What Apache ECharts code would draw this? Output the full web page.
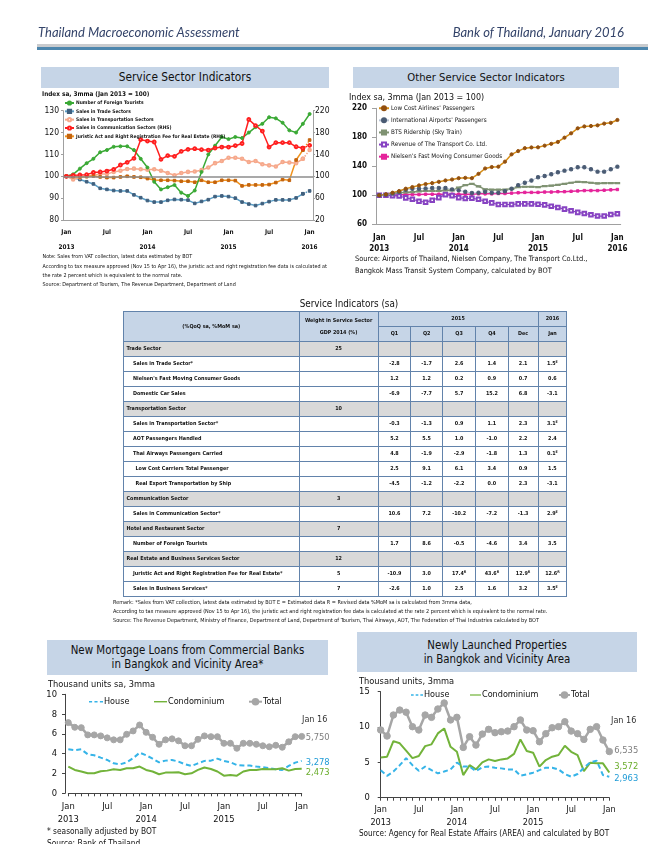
<!DOCTYPE html>
<html><head><meta charset="utf-8">
<script src="https://cdn.jsdelivr.net/npm/echarts/dist/echarts.min.js"></script>
<style>
html,body{margin:0;padding:0;}
body{width:661px;height:844px;position:relative;overflow:hidden;background:#fff;font-family:"DejaVu Sans Condensed","DejaVu Sans",sans-serif;color:#111;}
#chart{position:absolute;left:0;top:0;width:661px;height:844px;z-index:1;}
.tx{position:absolute;white-space:nowrap;transform:translateY(-50%);line-height:1.15;z-index:3;}
.box{position:absolute;background:#c6d5e7;z-index:0;display:flex;flex-direction:column;align-items:center;justify-content:center;color:#111;white-space:nowrap;}
#tbl{position:absolute;left:123px;top:311px;border-collapse:collapse;table-layout:fixed;z-index:3;font-weight:bold;font-size:5.4px;color:#111;}
#tbl td{border:1.4px solid #6283ab;padding:0;height:15px;box-sizing:border-box;text-align:center;vertical-align:middle;line-height:1;white-space:nowrap;overflow:hidden;}
#tbl td.lab{text-align:left;}
#tbl tr.hd td{background:#c6d5e7;}
#tbl tr.sec td{background:#d9d9d9;}
#tbl sup{font-size:3.6px;vertical-align:2px;}
</style></head>
<body>
<div id="chart"></div>
<script>
// ---------------- DATA ----------------
const months = ['2013-01','2013-02','2013-03','2013-04','2013-05','2013-06','2013-07','2013-08','2013-09','2013-10','2013-11','2013-12',
 '2014-01','2014-02','2014-03','2014-04','2014-05','2014-06','2014-07','2014-08','2014-09','2014-10','2014-11','2014-12',
 '2015-01','2015-02','2015-03','2015-04','2015-05','2015-06','2015-07','2015-08','2015-09','2015-10','2015-11','2015-12','2016-01'];

// Service Sector Indicators (index, Jan 2013 = 100)
const foreignTourists = [100,100.9,103.5,106,108,111,112,113.5,113.7,113.7,112,108,104,97.5,94,95,96,92.5,91,93.5,102,110,114,118,117,118,117.5,120,122.5,124,127,126.5,124.5,121,120,124,128.5];
const tradeSales = [100,99.3,98.5,97.5,96.5,94.5,94,93.5,93.3,93.3,91.5,90.2,88.9,88.2,88.2,89,89.4,89.3,89.1,87.6,88.5,89.3,90.7,91,90.7,90,88.2,87.3,86.6,87.5,88.4,89.2,89.2,89.2,90.1,92,93.3];
const transportSales = [100,98.5,99.5,100,100.5,101,101,102,102.5,103.3,103.5,103.2,103,103.2,102.5,101.5,100.5,101.5,102,102.2,102.8,104,106,107,108.5,108.5,108,106.5,107,105.5,105,104.5,106.5,106.3,106,108,112];
const commSales = [100,101.8,102.3,103,107,107.8,109.6,112.7,120.6,125.5,132.8,167,164.5,162.7,131,137.7,136.5,145.6,149.3,150.5,148.7,148,151.7,153.5,153.5,156,160,204,192.6,182.8,153.5,161.5,161.5,161.5,154,151.7,156.6];
const juristicFee = [100,99.4,98.8,99.4,100.6,98.8,97.6,97.6,98.8,100,98.8,98.2,95.8,93.3,92.7,92.7,92.1,90.9,90.9,89.1,92.7,89.1,89.1,92.7,92.7,92.1,82.4,84.2,84.2,84.2,84.8,88.5,93.9,92.7,129.8,148,166.3];

// Other Service Sector Indicators
const lowCostPax = [100,101.4,103.6,105.9,109.1,111.4,113.6,115.5,116.8,118.6,120.5,121.8,123.6,124.1,123.6,129.6,137,139,139.5,146.4,156.5,161,165,166,166.2,168.5,171,173.6,179.5,185.5,192.4,195,195.6,196.5,198.9,200,203.9];
const intlAirportPax = [100,100.9,102.3,104.5,107.7,109.1,109.1,109.5,110,110,110,108.2,106.8,105,103.2,103.6,105,103.6,103.6,105.5,109,114,117.3,120.5,124.8,126.7,129,131.7,134,135.9,138.6,138.6,135.9,132.6,132.6,135.9,139.5];
const btsRidership = [100,101,102.3,103.6,104,104.5,105.5,106,106,106,106.8,106.8,110.5,114,115.9,112.3,108.2,107.7,107.7,107.7,109,111.4,111.8,111.8,111.4,112.7,113.2,114.5,115.9,117.3,118.6,118.2,117.3,116.4,116.8,116.8,116.8];
const transportCoRevenue = [100,100,99.5,99.1,96.4,94.5,91.8,90.5,93.2,96.8,100.9,99.5,96.8,95.5,95.9,94.5,91.8,89.5,87.3,87.3,87.3,88.2,88.2,88.2,87.7,86.8,85,83.2,80.9,78.7,76.4,75,73.2,71.4,71.4,73.6,74.5];
const nielsenFMCG = [100,100,100.5,100.5,101,101,101,101.5,101.5,101.5,101.5,101.5,101.5,101.5,101.5,102,102,102,102.5,102.5,103,103.5,104,104,104,104.5,104.5,105,105,105.5,106,106.5,106.5,106.5,107,107.5,108];

// New Mortgage Loans (thousand units)
const mortgageTotal = [7.14,6.67,6.63,5.9,5.9,5.8,5.6,5.4,5.4,5.96,6.3,6.9,6.16,5.66,4.95,5.4,5.5,5.3,4.8,4.8,5.45,5.8,5.72,5.72,5.05,5.05,4.55,5.05,5.05,4.95,4.8,4.7,4.85,4.65,5.2,5.72,5.75];
const mortgageHouse = [4.44,4.35,4.44,3.94,3.84,3.6,3.37,3.03,2.93,3.13,3.54,4.1,3.84,3.5,3.13,3.3,3.37,3.2,2.93,2.76,3.03,3.27,3.3,3.5,3.27,3.13,2.86,2.8,2.8,2.7,2.63,2.53,2.42,2.36,2.76,3.1,3.278];
const mortgageCondo = [2.7,2.36,2.2,2.02,2.02,2.22,2.29,2.42,2.36,2.53,2.53,2.7,2.36,2.2,1.92,2.09,2.09,2.12,1.92,2.02,2.36,2.6,2.46,2.2,1.78,1.85,1.78,2.2,2.36,2.36,2.46,2.42,2.42,2.53,2.29,2.46,2.473];

// Newly Launched Properties (thousand units)
const launchTotal = [9.58,8.73,11.7,12.4,12.1,10.05,9.58,11.7,11.37,12.55,13.4,11,11.37,7.12,8.63,7.45,9.0,9.67,9.2,9.34,9.43,10.05,11,9.58,9.48,7.92,9.06,9.9,10.05,10.75,9.43,9.06,8.25,9.67,10.05,8.16,6.535];
const launchCondo = [5.7,5.8,8.0,7.7,6.65,5.6,5.9,7.3,7.55,9.1,9.8,7.2,6.5,3.2,4.6,4.0,5.0,5.42,5.2,5.42,5.56,6.2,8.25,6.6,6.37,4.4,5.33,5.8,6.04,7.36,6.5,6.04,3.77,4.95,4.86,4.86,3.572];
const launchHouse = [3.9,3.1,3.7,4.6,5.6,4.6,3.8,4.4,3.9,3.45,3.7,4.0,4.95,4.4,4.4,3.77,4.3,4.4,4.25,4.15,4.0,4.0,3.1,3.3,3.54,3.9,4.25,4.25,4.0,3.35,2.97,3.35,4.25,5.0,5.24,3.2,2.963];

// Service Indicators table
const tableHead2015 = ['Q1','Q2','Q3','Q4','Dec'];
const tableHead2016 = ['Jan'];
const tableLabels = ['Trade Sector','Sales in Trade Sector*',"Nielsen's Fast Moving Consumer Goods",'Domestic Car Sales','Transportation Sector','Sales in Transportation Sector*','AOT Passengers Handled','Thai Airways Passengers Carried','Low Cost Carriers Total Passenger','Real Export Transportation by Ship','Communication Sector','Sales in Communication Sector*','Hotel and Restaurant Sector','Number of Foreign Tourists','Real Estate and Business Services Sector','Juristic Act and Right Registration Fee for Real Estate*','Sales in Business Services*'];
const tableIndent = [0,1,1,1,0,1,1,1,2,2,0,1,0,1,0,1,1];
const tableWeights = ['25','','','','10','','','','','','3','','7','','12','5','7'];
const tableValues = [
 null,
 ['-2.8','-1.7','2.6','1.4','2.1','1.5|E'],
 ['1.2','1.2','0.2','0.9','0.7','0.6'],
 ['-6.9','-7.7','5.7','15.2','6.8','-3.1'],
 null,
 ['-0.3','-1.3','0.9','1.1','2.3','3.1|E'],
 ['5.2','5.5','1.0','-1.0','2.2','2.4'],
 ['4.8','-1.9','-2.9','-1.8','1.3','0.1|E'],
 ['2.5','9.1','6.1','3.4','0.9','1.5'],
 ['-4.5','-1.2','-2.2','0.0','2.3','-3.1'],
 null,
 ['10.6','7.2','-10.2','-7.2','-1.3','2.9|E'],
 null,
 ['1.7','8.6','-0.5','-4.6','3.4','3.5'],
 null,
 ['-10.9','3.0','17.4|R','43.6|R','12.9|R','12.6|R'],
 ['-2.6','1.0','2.5','1.6','3.2','3.5|E']
];

// ---------------- PAGE TEXT ----------------
const FF = '"DejaVu Sans Condensed","DejaVu Sans",sans-serif';
function addText(x, y, txt, css, align) {
  const d = document.createElement('div');
  d.className = 'tx';
  d.textContent = txt;
  d.style.cssText = css || '';
  d.style.top = y + 'px';
  if (align === 'right') { d.style.left = x + 'px'; d.style.transform = 'translate(-100%,-50%)'; }
  else if (align === 'center') { d.style.left = x + 'px'; d.style.transform = 'translate(-50%,-50%)'; }
  else d.style.left = x + 'px';
  document.body.appendChild(d);
  return d;
}
function addBox(x, y, w, h, lines, fs, lh) {
  const d = document.createElement('div');
  d.className = 'box';
  d.style.cssText = `left:${x}px;top:${y}px;width:${w}px;height:${h}px;font-size:${fs}px;line-height:${lh}px;`;
  lines.forEach(l => { const s = document.createElement('div'); s.textContent = l; d.appendChild(s); });
  document.body.appendChild(d);
}
function addRect(x, y, w, h, c) {
  const d = document.createElement('div');
  d.style.cssText = `position:absolute;left:${x}px;top:${y}px;width:${w}px;height:${h}px;background:${c};`;
  document.body.appendChild(d);
}

// header
const hdr = 'font-family:Lato,"Open Sans",sans-serif;font-style:italic;font-size:13px;color:#34446a;';
addText(38, 32, 'Thailand Macroeconomic Assessment', hdr);
addText(624, 32, 'Bank of Thailand, January 2016', hdr, 'right');
addRect(37, 44, 611, 3, '#c9cbce');
addRect(37, 47, 611, 2.5, '#4d86ad');

// title boxes
addBox(41, 67, 288, 21, ['Service Sector Indicators'], 11.8, 13);
addBox(353, 67, 266, 21, ['Other Service Sector Indicators'], 11.2, 13);
addBox(47, 640, 281, 35, ['New Mortgage Loans from Commercial Banks', 'in Bangkok and Vicinity Area*'], 11.4, 13.4);
addBox(357, 632, 280, 40, ['Newly Launched Properties', 'in Bangkok and Vicinity Area'], 11.4, 14);

// axis unit labels
addText(42, 95, 'Index sa, 3mma (Jan 2013 = 100)', 'font-size:6.4px;font-weight:bold;');
addText(349, 97, 'Index sa, 3mma (Jan 2013 = 100)', 'font-size:8.9px;');
addText(48, 683.5, 'Thousand units sa, 3mma', 'font-size:9.2px;');
addText(359, 681, 'Thousand units, 3mma', 'font-size:9.2px;');

// notes
const nt = 'font-size:5.4px;';
addText(42.5, 255.5, 'Note:  Sales from VAT collection, latest data estimated by BOT', nt);
addText(42.5, 265.5, 'According to tax measure approved (Nov 15 to Apr 16), the juristic act and right registration fee data is calculated at', nt);
addText(42.5, 274.5, 'the rate 2 percent which is equivalent to the normal rate.', nt);
addText(42.5, 283.5, 'Source: Department of Tourism, The Revenue Department, Department of Land', nt);
addText(355, 259.3, 'Source: Airports of Thailand, Nielsen Company, The Transport Co.Ltd.,', 'font-size:7.4px;');
addText(355, 270.5, 'Bangkok Mass Transit System Company, calculated by BOT', 'font-size:7.4px;');

// table
addText(349, 304, 'Service Indicators (sa)', 'font-size:9.8px;', 'center');
const rm = 'font-size:5.5px;';
addText(113, 601.5, 'Remark:  *Sales from VAT collection, latest data estimated by BOT      E = Estimated data      R = Revised data      %MoM sa is calculated from 3mma data,', rm);
addText(113, 610.5, 'According to tax measure approved (Nov 15 to Apr 16), the juristic act and right registration fee data is calculated at the rate 2 percent which is equivalent to the normal rate.', rm);
addText(113, 619.5, 'Source: The Revenue Department, Ministry of Finance, Department of Land, Department of Tourism, Thai Airways, AOT, The Federation of Thai Industries calculated by BOT', rm);

// bottom notes
addText(47, 831.7, '* seasonally adjusted by BOT', 'font-size:8.3px;');
addText(47, 843.5, 'Source: Bank of Thailand', 'font-size:8.3px;');
addText(359, 834, 'Source: Agency for Real Estate Affairs (AREA) and calculated by BOT', 'font-size:8.1px;');
addText(302, 719.3, 'Jan 16', 'font-size:9px;color:#333;');
addText(611, 720, 'Jan 16', 'font-size:9px;color:#333;');

// build table
(function(){
  const colW = [175.6, 79, 32.7, 31.7, 33.3, 32.3, 30, 28.7];
  const t = document.createElement('table');
  t.id = 'tbl';
  let h = '<colgroup>' + colW.map(w => `<col style="width:${w}px">`).join('') + '</colgroup>';
  h += `<tr class="hd"><td rowspan="2">(%QoQ sa, %MoM sa)</td><td rowspan="2" style="line-height:11.5px">Weight in Service Sector<br>GDP 2014 (%)</td><td colspan="5">2015</td><td>2016</td></tr>`;
  h += '<tr class="hd">' + tableHead2015.concat(tableHead2016).map(s => `<td>${s}</td>`).join('') + '</tr>';
  tableLabels.forEach((lab, i) => {
    const vals = tableValues[i];
    const pad = [2.5, 9, 11.5][tableIndent[i]];
    h += `<tr class="${vals ? '' : 'sec'}"><td class="lab" style="padding-left:${pad}px">${lab}</td><td>${tableWeights[i]}</td>`;
    for (let k = 0; k < 6; k++) {
      let c = '';
      if (vals) { const p = vals[k].split('|'); c = p[0] + (p[1] ? `<sup>${p[1]}</sup>` : ''); }
      h += `<td>${c}</td>`;
    }
    h += '</tr>';
  });
  t.innerHTML = h;
  document.body.appendChild(t);
})();

// ---------------- CHARTS ----------------
const chart = echarts.init(document.getElementById('chart'), null, {renderer: 'canvas'});

function monthLabel(showLastYear) {
  return function (v) {
    const y = v.slice(0, 4), m = v.slice(5);
    if (m === '01') return (y === '2016' && !showLastYear) ? 'Jan' : 'Jan\n' + y;
    return 'Jul';
  };
}
function onlyUpTo(arr, n) { return arr.map((v, i) => i <= n ? v : null); }
function fromIdx(arr, n) { return arr.map((v, i) => i >= n ? v : null); }

function line(name, xi, yi, data, color, o) {
  o = o || {};
  return Object.assign({
    name: name, type: 'line', xAxisIndex: xi, yAxisIndex: yi, data: data,
    symbol: o.symbol || 'none', symbolSize: o.size || 3, showSymbol: !!o.symbol, showAllSymbol: true,
    lineStyle: {color: color, width: o.width || 1.5, type: o.type || 'solid'},
    itemStyle: {color: o.mcolor || color, borderColor: o.mcolor || color, borderWidth: o.bw || 1},
    emphasis: {disabled: true}, silent: true, z: o.z || 2
  }, o.extra || {});
}
const fmtK = v => Math.round(v * 1000).toLocaleString('en-US');

const axLine = c => ({show: true, lineStyle: {color: c, width: 1}});
const lblBase = {color: '#111', fontFamily: FF};
const dashIcon = 'path://M0,0H4V2H0Z M7,0H11V2H7Z M14,0H18V2H14Z';
const solidIcon = 'path://M0,0H18V2H0Z';
function smallLeg(item, left, top, w) {
  const isLine = typeof item === 'object';
  const l = {data: [item], left: left, top: top, itemWidth: w, itemHeight: isLine ? 2.4 : 7, padding: 0, selectedMode: false,
    textStyle: {fontSize: 9, lineHeight: 10, color: '#111', padding: [0, 0, 0, -4]}};
  if (isLine) l.itemStyle = {borderWidth: 0};
  return l;
}

const option = {
  animation: false,
  textStyle: {fontFamily: FF},
  grid: [
    {left: 63, top: 110.7, width: 250, height: 109.3},
    {left: 376, top: 108.3, width: 244.7, height: 116},
    {left: 68.3, top: 694.3, width: 233.4, height: 99},
    {left: 380.7, top: 691.7, width: 228.6, height: 106}
  ],
  xAxis: [
    {type: 'category', gridIndex: 0, data: months, boundaryGap: true, axisLine: axLine('#a0a0a0'),
     axisTick: {interval: 5, length: 3, lineStyle: {color: '#a0a0a0'}},
     axisLabel: Object.assign({interval: 5, formatter: monthLabel(true), fontSize: 6.4, fontWeight: 'bold', lineHeight: 15, margin: 4.5}, lblBase)},
    {type: 'category', gridIndex: 1, data: months, boundaryGap: true, axisLine: axLine('#a0a0a0'),
     axisTick: {interval: 5, length: 4, lineStyle: {color: '#a0a0a0'}},
     axisLabel: Object.assign({interval: 5, formatter: monthLabel(true), fontSize: 8, fontWeight: 'bold', lineHeight: 11.5, margin: 7.6}, lblBase)},
    {type: 'category', gridIndex: 2, data: months, boundaryGap: false, axisLine: axLine('#444'),
     axisTick: {interval: 0, length: 3, lineStyle: {color: '#444'}},
     axisLabel: Object.assign({interval: 5, formatter: monthLabel(false), fontSize: 9.3, lineHeight: 13.3, margin: 6.7}, lblBase)},
    {type: 'category', gridIndex: 3, data: months, boundaryGap: false, axisLine: axLine('#444'),
     axisTick: {interval: 0, length: 3, lineStyle: {color: '#444'}},
     axisLabel: Object.assign({interval: 5, formatter: monthLabel(false), fontSize: 9, lineHeight: 12.7, margin: 6}, lblBase)}
  ],
  yAxis: [
    {type: 'value', gridIndex: 0, min: 80, max: 130, interval: 10, position: 'left', axisLine: axLine('#a0a0a0'),
     axisTick: {show: true, length: 2, lineStyle: {color: '#a0a0a0'}}, splitLine: {show: false},
     axisLabel: Object.assign({fontSize: 8.5, margin: 4}, lblBase)},
    {type: 'value', gridIndex: 0, min: 20, max: 220, interval: 40, position: 'right', axisLine: axLine('#a0a0a0'),
     axisTick: {show: true, length: 2, lineStyle: {color: '#a0a0a0'}}, splitLine: {show: false},
     axisLabel: Object.assign({fontSize: 8.5, margin: 2}, lblBase)},
    {type: 'value', gridIndex: 1, min: 60, max: 220, interval: 40, axisLine: axLine('#a0a0a0'),
     axisTick: {show: true, length: 4, lineStyle: {color: '#a0a0a0'}}, splitLine: {show: false},
     axisLabel: Object.assign({fontSize: 8, fontWeight: 'bold', margin: 9}, lblBase)},
    {type: 'value', gridIndex: 2, min: 0, max: 10, interval: 2, offset: 3.3, axisLine: axLine('#444'),
     axisTick: {show: true, length: 3, lineStyle: {color: '#444'}}, splitLine: {show: false},
     axisLabel: Object.assign({fontSize: 9.3, margin: 8}, lblBase)},
    {type: 'value', gridIndex: 3, min: 0, max: 15, interval: 5, axisLine: axLine('#444'),
     axisTick: {show: true, length: 3, lineStyle: {color: '#444'}}, splitLine: {show: false},
     axisLabel: Object.assign({fontSize: 9.3, margin: 11}, lblBase)}
  ],
  legend: [
    {data: ['Number of Foreign Tourists', 'Sales in Trade Sectors', 'Sales in Transportation Sectors', 'Sales in Communication Sectors (RHS)', 'Juristic Act and Right Registration Fee for Real Estate (RHS)'],
     orient: 'vertical', left: 64, top: 100, itemWidth: 9, itemHeight: 4, itemGap: 2.33, padding: 0, selectedMode: false,
     textStyle: {fontSize: 4.9, fontWeight: 'bold', lineHeight: 6, color: '#111', padding: [0, 0, 0, -3]}},
    {data: ["Low Cost Airlines' Passengers", "International Airports' Passengers", 'BTS Ridership (Sky Train)', 'Revenue of The Transport Co. Ltd.', "Nielsen's Fast Moving Consumer Goods"],
     orient: 'vertical', left: 378, top: 104, itemWidth: 10, itemHeight: 5, itemGap: 3.6, padding: 0, selectedMode: false,
     textStyle: {fontSize: 6.3, lineHeight: 8.5, color: '#111', padding: [0, 0, 0, -3]}},
    smallLeg({name: 'House', icon: dashIcon}, 89, 696.7, 14),
    smallLeg({name: 'Condominium', icon: solidIcon}, 154, 696.7, 13),
    smallLeg('Total', 248, 696.7, 13),
    smallLeg({name: 'House', icon: dashIcon}, 411, 690, 12),
    smallLeg({name: 'Condominium', icon: solidIcon}, 470, 690, 11),
    smallLeg('Total', 558, 690, 11)
  ],
  series: [
    // top-left
    line('Sales in Trade Sectors', 0, 0, onlyUpTo(tradeSales, 35), '#5b9ec6', {symbol: 'rect', size: 2.6, mcolor: '#40607e'}),
    line('', 0, 0, fromIdx(tradeSales, 35), '#5b9ec6', {symbol: 'rect', size: 2.6, mcolor: '#40607e', type: 'dotted'}),
    line('Sales in Transportation Sectors', 0, 0, onlyUpTo(transportSales, 35), '#f6a98c', {symbol: 'emptyCircle', size: 2.6}),
    line('', 0, 0, fromIdx(transportSales, 35), '#f6a98c', {symbol: 'emptyCircle', size: 2.6, type: 'dotted'}),
    line('Juristic Act and Right Registration Fee for Real Estate (RHS)', 0, 1, onlyUpTo(juristicFee, 35), '#f0931f', {symbol: 'rect', size: 2.6, mcolor: '#c4640e'}),
    line('', 0, 1, fromIdx(juristicFee, 35), '#f0931f', {symbol: 'rect', size: 2.6, mcolor: '#c4640e', type: 'dotted'}),
    line('Number of Foreign Tourists', 0, 0, foreignTourists, '#3aa935', {symbol: 'circle', size: 3,
      extra: {markLine: {silent: true, symbol: 'none', label: {show: false}, lineStyle: {color: '#8c8c8c', width: 1.5, type: 'solid'}, data: [{yAxis: 100}]}}}),
    line('Sales in Communication Sectors (RHS)', 0, 1, onlyUpTo(commSales, 35), '#ff1f1f', {symbol: 'emptyCircle', size: 2.8}),
    line('', 0, 1, fromIdx(commSales, 35), '#ff1f1f', {symbol: 'emptyCircle', size: 2.8, type: 'dotted'}),
    // top-right
    line("Nielsen's Fast Moving Consumer Goods", 1, 2, nielsenFMCG, '#e5249b', {symbol: 'rect', size: 2.4}),
    line('Revenue of The Transport Co. Ltd.', 1, 2, transportCoRevenue, '#8743c2', {symbol: 'emptyRect', size: 3.6, width: 1.2}),
    line('BTS Ridership (Sky Train)', 1, 2, btsRidership, '#7f9272', {symbol: 'rect', size: [4, 1.6]}),
    line("International Airports' Passengers", 1, 2, intlAirportPax, '#b9c5d6', {symbol: 'circle', size: 3.4, width: 1, mcolor: '#4a5b73'}),
    line("Low Cost Airlines' Passengers", 1, 2, lowCostPax, '#d58c14', {symbol: 'circle', size: 3.2, mcolor: '#93500f'}),
    // bottom-left
    line('Total', 2, 3, mortgageTotal, '#a6a6a6', {symbol: 'circle', size: 6, width: 2.5,
      extra: {endLabel: {show: true, formatter: p => fmtK(p.value), color: '#7f7f7f', fontSize: 9.3, distance: 4, offset: [0, 1.5]}}}),
    line('House', 2, 3, mortgageHouse, '#36b4e8', {width: 2, type: [5, 3],
      extra: {endLabel: {show: true, formatter: p => fmtK(p.value), color: '#1f9bd6', fontSize: 9.3, distance: 4, offset: [0, 2]}}}),
    line('Condominium', 2, 3, mortgageCondo, '#72b33a', {width: 2,
      extra: {endLabel: {show: true, formatter: p => fmtK(p.value), color: '#6aad2c', fontSize: 9.3, distance: 4, offset: [0, 4]}}}),
    // bottom-right
    line('Total', 3, 4, launchTotal, '#a6a6a6', {symbol: 'circle', size: 6.5, width: 2.5,
      extra: {endLabel: {show: true, formatter: p => fmtK(p.value), color: '#7f7f7f', fontSize: 9.3, distance: 5, offset: [0, -1]}}}),
    line('Condominium', 3, 4, launchCondo, '#72b33a', {width: 2,
      extra: {endLabel: {show: true, formatter: p => fmtK(p.value), color: '#6aad2c', fontSize: 9.3, distance: 5, offset: [0, -5.5]}}}),
    line('House', 3, 4, launchHouse, '#36b4e8', {width: 2, type: [5, 3],
      extra: {endLabel: {show: true, formatter: p => fmtK(p.value), color: '#1f9bd6', fontSize: 9.3, distance: 5, offset: [0, 2]}}})
  ]
};
chart.setOption(option);
</script>
</body></html>
